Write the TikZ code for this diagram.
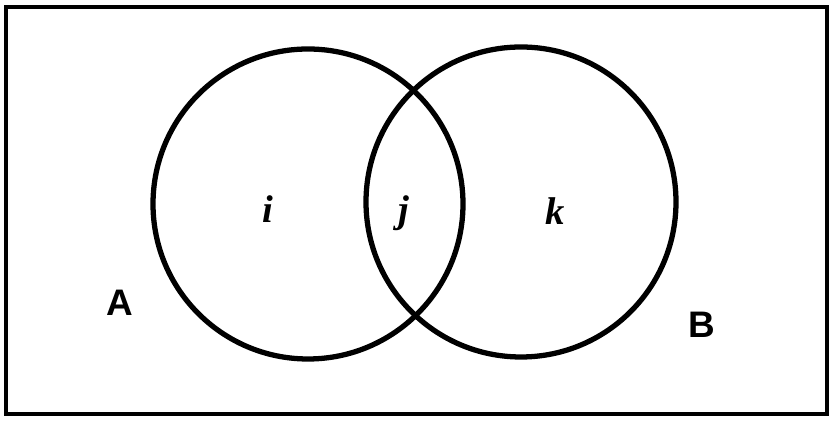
\documentclass[tikz,border=0pt]{standalone}
\usepackage{fontspec}
\setmainfont{Liberation Serif}
\setsansfont{Liberation Sans}
\usetikzlibrary{positioning}
\tikzset{
  vennset/.style={draw, circle, line width=3pt, minimum size=6.2cm, inner sep=0pt},
  vennframe/.style={draw, line width=2.3pt},
  regionlabel/.style={font=\fontsize{22}{24}\selectfont\bfseries\itshape, inner sep=0pt},
  setlabel/.style={font=\fontsize{21}{24}\selectfont\sffamily\bfseries, inner sep=0pt},
}

\begin{document}
\begin{tikzpicture}
  \useasboundingbox (0,0) rectangle (16.68,-8.5);
  \draw[vennframe] (0.12,-0.14) rectangle (16.54,-8.28);
  \node[vennset] (setA) at (6.16,-4.08) {};
  \node[vennset] (setB) at (10.42,-4.04) {};
  \node[regionlabel] (lblI) at (5.36,-4.18) {i};
  \node[regionlabel] (lblJ) at (8.08,-4.26) {j};
  \node[regionlabel] (lblK) at (11.1,-4.22) {k};
  \node[setlabel] (lblA) at (2.4,-6.06) {A};
  \node[setlabel] (lblB) at (14.04,-6.5) {B};
\end{tikzpicture}
\end{document}
